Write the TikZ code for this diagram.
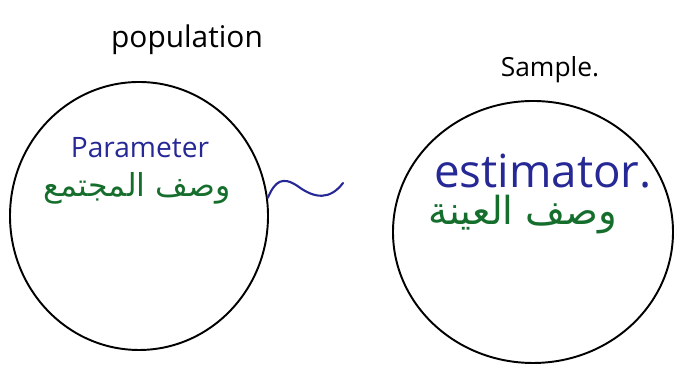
\documentclass[tikz,border=0pt]{standalone}
\usepackage{fontspec}
\setmainfont{Open Sans}
\newfontfamily\arabicfont[Script=Arabic]{DejaVu Sans}
\TeXXeTstate=1
\usepackage{xcolor}
\usepackage{tikz}
\usetikzlibrary{shapes.geometric}
\definecolor{penblue}{RGB}{38,40,150}
\definecolor{pengreen}{RGB}{22,110,45}
\tikzset{
  blob/.style={draw=black, line width=1.1pt, ellipse, inner sep=0pt},
  title/.style={text=black, font=\fontsize{17}{20}\selectfont},
  word/.style={text=penblue},
  arab/.style={text=pengreen, font=\arabicfont\fontsize{18}{22}\selectfont}
}

\begin{document}
\begin{tikzpicture}
\useasboundingbox (0,0) rectangle (13.7,7.34);
\node[blob, minimum width=5.16cm, minimum height=5.36cm] (pop) at (2.78,3.02) {};
\node[blob, minimum width=5.6cm, minimum height=5.24cm] (samp) at (10.66,2.70) {};
\node[title] (poplabel) at (3.74,6.54) {population};
\node[title, font=\fontsize{15}{18}\selectfont] (samplabel) at (11.0,5.94) {Sample.};
\node[word, font=\fontsize{16}{19}\selectfont] (param) at (2.8,4.38) {Parameter};
\node[arab] (popdesc) at (2.74,3.58) {\beginR وصف المجتمع\endR};
\node[word, font=\fontsize{26}{30}\selectfont] (estim) at (10.86,3.92) {estimator.};
\node[arab, font=\arabicfont\fontsize{22}{26}\selectfont] (sampdesc) at (10.46,3.04) {\beginR وصف العينة\endR};
\coordinate (waveend) at (6.86,3.68);
\draw[penblue, line width=1.2pt, line cap=round] (pop.8) .. controls (5.5,3.72) and (5.65,3.82) .. (5.95,3.62) .. controls (6.3,3.36) and (6.6,3.34) .. (waveend);
\end{tikzpicture}
\end{document}
